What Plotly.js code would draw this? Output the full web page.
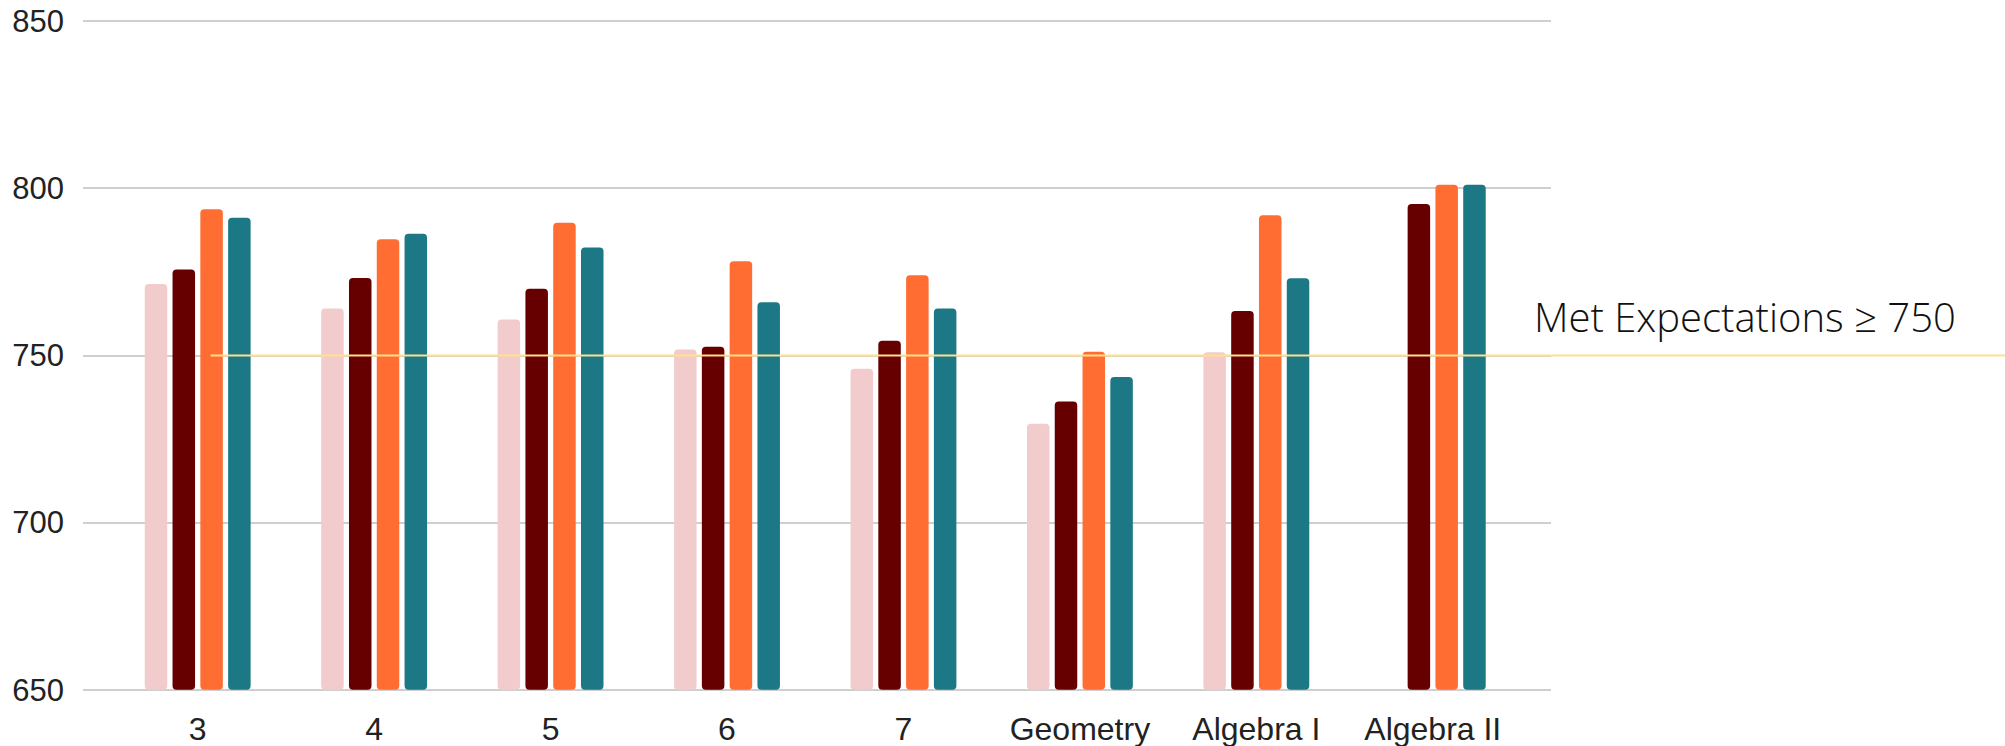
<!DOCTYPE html>
<html>
<head>
<meta charset="utf-8">
<script src="https://cdn.plot.ly/plotly-3.0.1.min.js"></script>
<style>html,body{margin:0;padding:0;background:#fff;}#chart{width:2005px;height:746px;}</style>
</head>
<body>
<div id="chart"></div>
<script>
const categories = ["3", "4", "5", "6", "7", "Geometry", "Algebra I", "Algebra II"];
const seriesNames = ["Series 1", "Series 2", "Series 3", "Series 4"];
const series1 = [771.4, 764.1, 760.8, 751.8, 746.0, 729.6, 751.0, null];
const series2 = [775.7, 773.2, 770.0, 752.6, 754.4, 736.2, 763.3, 795.3];
const series3 = [793.8, 784.8, 789.7, 778.2, 774.0, 751.1, 792.0, 801.1];
const series4 = [791.2, 786.4, 782.3, 765.9, 764.1, 743.6, 773.1, 801.1];
const colors = ["#F2CCCC", "#660000", "#FF6D33", "#1D7886"];
const axisBase = 650;
const threshold = 750;
const thresholdLabel = "Met Expectations ≥ 750";
const yTicks = [650, 700, 750, 800, 850];

const allSeries = [series1, series2, series3, series4];
const traces = allSeries.map((vals, i) => ({
  type: "bar",
  name: seriesNames[i],
  x: categories,
  y: vals.map(v => v === null ? null : v - axisBase),
  base: axisBase,
  marker: {color: colors[i], cornerradius: 4, line: {width: 0}},
  hoverinfo: "x+y"
}));

const layout = {
  width: 2005,
  height: 746,
  margin: {l: 83, r: 454, t: 20, b: 55},
  paper_bgcolor: "#ffffff",
  plot_bgcolor: "#ffffff",
  showlegend: false,
  barmode: "group",
  bargap: 0.37,
  bargroupgap: 0.19,
  font: {family: "Liberation Sans, Arial, sans-serif", size: 30, color: "#222222"},
  xaxis: {
    type: "category",
    range: [-0.65, 7.67],
    showgrid: false,
    zeroline: false,
    showline: false,
    ticks: "",
    ticklabelstandoff: 16,
    tickfont: {family: "Liberation Sans, Arial, sans-serif", size: 32, color: "#222222"},
    automargin: false
  },
  yaxis: {
    range: [649.6, 850.4],
    tickvals: yTicks,
    ticktext: yTicks.map(String),
    showgrid: true,
    gridcolor: "#CFCFCF",
    gridwidth: 2,
    zeroline: false,
    showline: false,
    ticks: "",
    ticklabelstandoff: 18,
    tickfont: {family: "Liberation Sans, Arial, sans-serif", size: 31, color: "#222222"},
    automargin: false
  },
  shapes: [{
    type: "line",
    xref: "paper",
    yref: "y",
    x0: 0.087,
    x1: 1.31,
    y0: threshold,
    y1: threshold,
    line: {color: "#FFE08C", width: 2},
    layer: "above"
  }],
  annotations: [{
    xref: "paper",
    yref: "paper",
    x: 0.987,
    y: 0.558,
    xanchor: "left",
    yanchor: "middle",
    text: thresholdLabel,
    showarrow: false,
    font: {family: "Open Sans, sans-serif", size: 40, weight: 300, color: "#111111"}
  }]
};

Plotly.newPlot("chart", traces, layout, {displayModeBar: false, staticPlot: true});
</script>
</body>
</html>
